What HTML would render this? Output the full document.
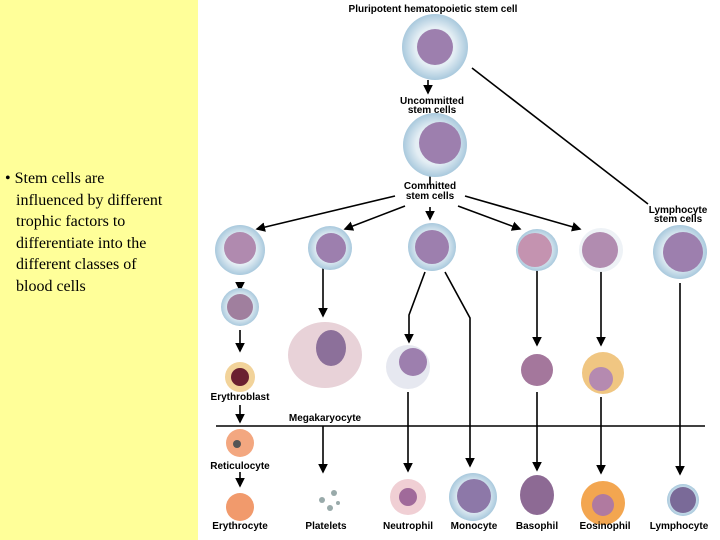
<!DOCTYPE html>
<html><head><meta charset="utf-8"><style>
body{margin:0;width:720px;height:540px;overflow:hidden;background:#fff}
.left{position:absolute;left:0;top:0;width:198px;height:540px;background:#ffff99}
.txt{position:absolute;left:5px;top:168px;font:16px/21.5px "Liberation Serif",serif;color:#000}
svg{position:absolute;left:0;top:0}
text{font-family:"Liberation Sans",sans-serif;font-weight:bold;font-size:10px;text-anchor:middle}
</style></head><body>
<div class="left"></div>
<div class="txt">• Stem cells are<br><span style="padding-left:11px">influenced by different</span><br><span style="padding-left:11px">trophic factors to</span><br><span style="padding-left:11px">differentiate into the</span><br><span style="padding-left:11px">different classes of</span><br><span style="padding-left:11px">blood cells</span></div>
<svg width="720" height="540" viewBox="0 0 720 540">
<defs>
<marker id="a" markerWidth="6" markerHeight="6" refX="5" refY="3" orient="auto"><path d="M0,0L6,3L0,6z" fill="#000"/></marker>
<radialGradient id="cy"><stop offset="0.6" stop-color="#e4eef4"/><stop offset="1" stop-color="#a9c9dd"/></radialGradient>
</defs>
<g stroke="#000" stroke-width="1.6" fill="none">
<line x1="428" y1="80" x2="428" y2="93" marker-end="url(#a)"/>
<line x1="430" y1="176" x2="430" y2="184"/>
<line x1="395" y1="196" x2="257" y2="229" marker-end="url(#a)"/>
<line x1="405" y1="206" x2="345" y2="229" marker-end="url(#a)"/>
<line x1="430" y1="207" x2="430" y2="219" marker-end="url(#a)"/>
<line x1="458" y1="206" x2="520" y2="229" marker-end="url(#a)"/>
<line x1="465" y1="196" x2="580" y2="229" marker-end="url(#a)"/>
<line x1="472" y1="68" x2="648" y2="204"/>
<line x1="240" y1="283" x2="240" y2="290" marker-end="url(#a)"/>
<line x1="240" y1="330" x2="240" y2="351" marker-end="url(#a)"/>
<line x1="240" y1="405" x2="240" y2="422" marker-end="url(#a)"/>
<line x1="240" y1="472" x2="240" y2="486" marker-end="url(#a)"/>
<line x1="323" y1="262" x2="323" y2="316" marker-end="url(#a)"/>
<line x1="323" y1="426" x2="323" y2="472" marker-end="url(#a)"/>
<polyline points="425,272 409,315 409,342" marker-end="url(#a)"/>
<polyline points="445,272 470,318 470,466" marker-end="url(#a)"/>
<line x1="408" y1="392" x2="408" y2="471" marker-end="url(#a)"/>
<line x1="537" y1="262" x2="537" y2="345" marker-end="url(#a)"/>
<line x1="537" y1="392" x2="537" y2="470" marker-end="url(#a)"/>
<line x1="601" y1="262" x2="601" y2="345" marker-end="url(#a)"/>
<line x1="601" y1="397" x2="601" y2="473" marker-end="url(#a)"/>
<line x1="680" y1="283" x2="680" y2="474" marker-end="url(#a)"/>
<line x1="216" y1="426" x2="705" y2="426"/>
</g>
<g fill="url(#cy)">
<circle cx="435" cy="47" r="33"/><circle cx="435" cy="145" r="32"/>
<circle cx="240" cy="250" r="25"/><circle cx="330" cy="248" r="22"/><circle cx="432" cy="247" r="24"/>
<circle cx="537" cy="250" r="21"/><circle cx="601" cy="250" r="22" fill="#eef2f6"/><circle cx="680" cy="252" r="27"/>
<circle cx="240" cy="307" r="19"/><circle cx="408" cy="367" r="22" fill="#e6e8f0"/><circle cx="473" cy="497" r="24"/>
<circle cx="683" cy="500" r="16"/>
</g>
<g fill="#9d7fae">
<circle cx="435" cy="47" r="18"/><circle cx="440" cy="143" r="21"/>
<circle cx="240" cy="248" r="16" fill="#b08aaf"/><circle cx="331" cy="248" r="15"/><circle cx="432" cy="247" r="17"/>
<circle cx="535" cy="250" r="17" fill="#c493b0"/><circle cx="600" cy="250" r="18" fill="#b18cb0"/><circle cx="683" cy="252" r="20"/>
<circle cx="240" cy="307" r="13" fill="#a07f9e"/><circle cx="413" cy="362" r="14"/><circle cx="474" cy="496" r="17" fill="#8d78a8"/>
<circle cx="683" cy="500" r="13" fill="#7a6a98"/>
</g>
<ellipse cx="325" cy="355" rx="37" ry="33" fill="#e8d2d8"/>
<ellipse cx="331" cy="348" rx="15" ry="18" fill="#8c709a"/>
<circle cx="240" cy="377" r="15" fill="#f2d39a"/><circle cx="240" cy="377" r="9" fill="#6a2030"/>
<circle cx="240" cy="443" r="14" fill="#f3a780"/><circle cx="237" cy="444" r="4" fill="#555"/>
<circle cx="240" cy="507" r="14" fill="#f19a6c"/>
<g fill="#9aa"><circle cx="322" cy="500" r="3"/><circle cx="334" cy="493" r="3"/><circle cx="330" cy="508" r="3"/><circle cx="338" cy="503" r="2"/></g>
<circle cx="537" cy="370" r="16" fill="#a4779c"/>
<circle cx="603" cy="373" r="21" fill="#f0c682"/><circle cx="601" cy="379" r="12" fill="#b58ab0"/>
<circle cx="408" cy="497" r="18" fill="#f0cfd4"/><circle cx="408" cy="497" r="9" fill="#a06a9a"/>
<ellipse cx="537" cy="495" rx="17" ry="20" fill="#8d6a94"/>
<circle cx="603" cy="503" r="22" fill="#f3a650"/><circle cx="603" cy="505" r="11" fill="#b07aa0"/>
<g>
<text x="433" y="12">Pluripotent hematopoietic stem cell</text>
<text x="432" y="104">Uncommitted</text><text x="432" y="113">stem cells</text>
<text x="430" y="189">Committed</text><text x="430" y="199">stem cells</text>
<text x="678" y="213">Lymphocyte</text><text x="678" y="222">stem cells</text>
<text x="240" y="400">Erythroblast</text>
<text x="325" y="421">Megakaryocyte</text>
<text x="240" y="469">Reticulocyte</text>
<text x="240" y="529">Erythrocyte</text>
<text x="326" y="529">Platelets</text>
<text x="408" y="529">Neutrophil</text>
<text x="474" y="529">Monocyte</text>
<text x="537" y="529">Basophil</text>
<text x="605" y="529">Eosinophil</text>
<text x="679" y="529">Lymphocyte</text>
</g>
</svg>
</body></html>
